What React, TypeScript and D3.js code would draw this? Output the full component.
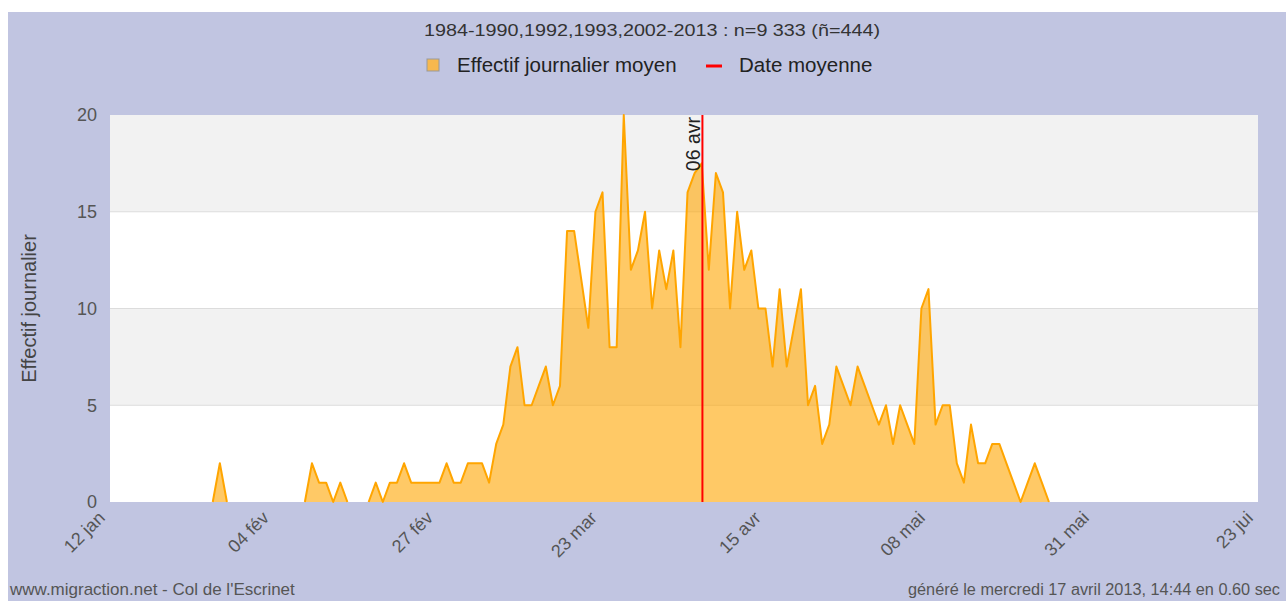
import React from 'react';
import * as d3 from 'd3';

// daily mean counts, one value per day starting 12 jan
const effectif = [
  0, 0, 0, 0, 0, 0, 0, 0, 0, 0, 0, 0, 0, 0,
  0, 2, 0,
  0, 0, 0, 0, 0, 0, 0, 0, 0, 0,
  0, 2, 1, 1, 0, 1, 0, 0, 0, 0, 1, 0, 1, 1, 2, 1, 1, 1, 1, 1, 2, 1, 1, 2, 2, 2, 1,
  3, 4, 7, 8, 5, 5, 6, 7, 5, 6, 14, 14, 11.5, 9, 15, 16, 8, 8, 20, 12, 13, 15, 10,
  13, 11, 13, 8, 16, 17, 17.5, 12, 17, 16, 10, 15, 12, 13, 10, 10, 7, 11, 7, 9, 11,
  5, 6, 3, 4, 7, 6, 5, 7, 6, 5, 4, 5, 3, 5, 4, 3, 10, 11, 4, 5, 5, 2, 1, 4, 2, 2,
  3, 3, 2, 1, 0, 1, 2, 1, 0,
];

const tickLabels = ['12 jan', '04 fév', '27 fév', '23 mar', '15 avr', '08 mai', '31 mai', '23 jui'];
const totalDays = 162;
const meanDay = 83.6;
const meanLabel = '06 avr';
const yTicks = [0, 5, 10, 15, 20];

const title = '1984-1990,1992,1993,2002-2013 : n=9 333 (ñ=444)';
const legendArea = 'Effectif journalier moyen';
const legendMean = 'Date moyenne';
const yTitle = 'Effectif journalier';
const footerLeft = "www.migraction.net - Col de l'Escrinet";
const footerRight = 'généré le mercredi 17 avril 2013, 14:44 en 0.60 sec';

const W = 1286;
const H = 601;
const margin = { top: 115, right: 28, bottom: 99, left: 110 };
const font = '"Liberation Sans", Arial, sans-serif';

const App = () => {
  const innerW = W - margin.left - margin.right;
  const innerH = H - margin.top - margin.bottom;

  const x = d3.scaleLinear().domain([0, totalDays]).range([0, innerW]);
  const y = d3.scaleLinear().domain([0, 20]).range([innerH, 0]);

  const pts = effectif.map((v, i) => ({ day: i + 0.5, v, i }));

  const area = d3.area<any>()
    .x(d => x(d.day))
    .y0(y(0))
    .y1(d => y(d.v));

  // hide the stroke where it would just run along the baseline
  const line = d3.line<any>()
    .defined(d => d.v > 0 || (effectif[d.i - 1] || 0) > 0 || (effectif[d.i + 1] || 0) > 0)
    .x(d => x(d.day))
    .y(d => y(d.v));

  const tickStep = totalDays / (tickLabels.length - 1);

  return (
    <svg width={W} height={H} style={{ position: 'absolute', left: 0, top: 0, display: 'block' }}
      fontFamily={font}>
      <rect x={0} y={0} width={W} height={H} fill="#fff" />
      <rect x={8} y={12} width={W - 8} height={H - 12} fill="#c1c5e1" />

      <text x={652} y={36} textAnchor="middle" fontSize={16} fill="#333"
        textLength={456} lengthAdjust="spacingAndGlyphs">{title}</text>

      <g>
        <rect x={427} y={59} width={12} height={12} fill="#f7b84e" stroke="#999" strokeWidth={1} />
        <text x={457} y={72} fontSize={20.5} fill="#222">{legendArea}</text>
        <line x1={706} x2={722} y1={66} y2={66} stroke="red" strokeWidth={3} />
        <text x={739} y={72} fontSize={20.5} fill="#222">{legendMean}</text>
      </g>

      <text transform={`translate(36,${margin.top + innerH / 2}) rotate(-90)`} textAnchor="middle"
        fontSize={20} fill="#444">{yTitle}</text>

      <g transform={`translate(${margin.left},${margin.top})`}>
        <rect width={innerW} height={innerH} fill="#fff" />
        {[0, 1, 2, 3].map(k => (
          <rect key={k} x={0} y={y(yTicks[k + 1])} width={innerW}
            height={y(yTicks[k]) - y(yTicks[k + 1])} fill={k % 2 === 1 ? '#f2f2f2' : '#fff'} />
        ))}
        {yTicks.slice(1, 4).map(t => (
          <line key={t} x1={0} x2={innerW} y1={y(t)} y2={y(t)} stroke="#dcdcdc" strokeWidth={1} />
        ))}

        <path d={area(pts) || ''} fill="#ffa500" fillOpacity={0.6} />
        <path d={line(pts) || ''} fill="none" stroke="#ffa500" strokeWidth={2} strokeLinejoin="round" />

        <line x1={x(meanDay)} x2={x(meanDay)} y1={0} y2={innerH} stroke="red" strokeWidth={2} />
        <text transform={`translate(${x(meanDay) - 2},2) rotate(-90)`} textAnchor="end"
          fontSize={19.5} fill="#222">{meanLabel}</text>

        {yTicks.map(t => (
          <text key={t} x={-13} y={y(t)} dy="0.35em" textAnchor="end" fontSize={18} fill="#555">{t}</text>
        ))}

        {tickLabels.map((lab, k) => (
          <text key={lab} transform={`translate(${x(k * tickStep) - 4},${innerH + 17}) rotate(-45)`}
            textAnchor="end" fontSize={18} fill="#555">{lab}</text>
        ))}
      </g>

      <text x={10} y={595} fontSize={17} fill="#555">{footerLeft}</text>
      <text x={908} y={595} fontSize={16} fill="#555"
        textLength={372} lengthAdjust="spacingAndGlyphs">{footerRight}</text>
    </svg>
  );
};

export default App;
